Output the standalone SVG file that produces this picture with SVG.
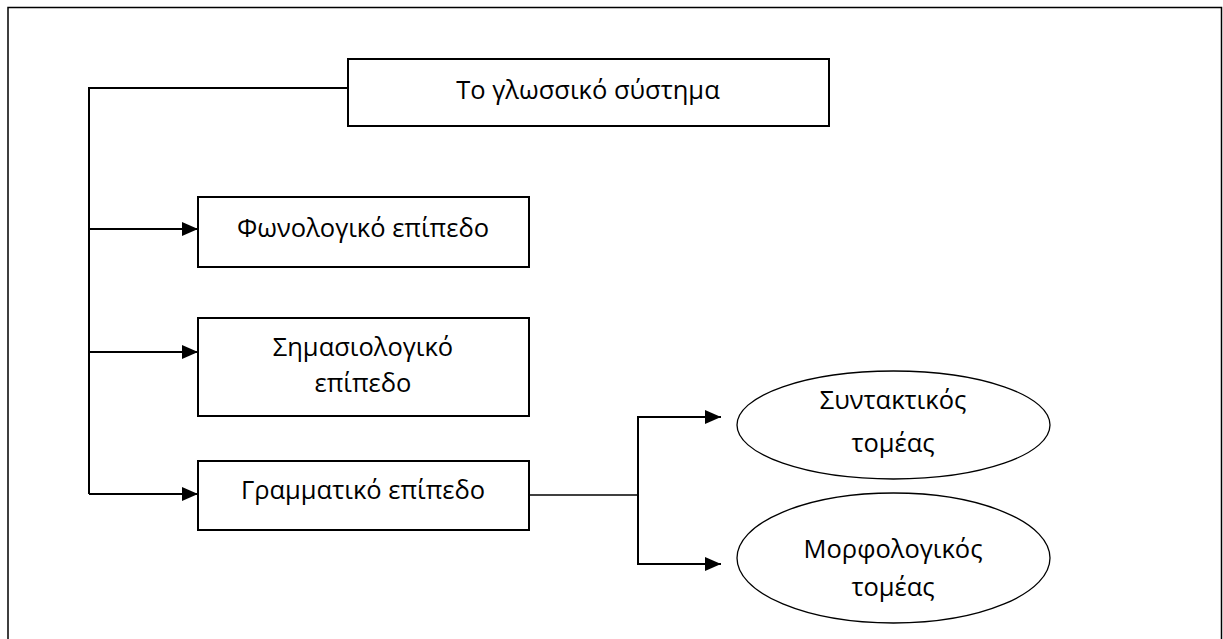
<svg xmlns="http://www.w3.org/2000/svg" width="1223" height="639" viewBox="0 0 1223 639">
<style>
.box{fill:#fff;stroke:#000;stroke-width:2}
.ell{fill:#fff;stroke:#000;stroke-width:1.3}
.ln{fill:none;stroke:#000;stroke-width:2}
text{font-family:"Open Sans","Liberation Sans",sans-serif;font-size:25.5px;fill:#000;text-anchor:middle}
</style>
<defs>
<marker id="arr2" markerWidth="16" markerHeight="14" refX="16" refY="7" orient="auto" markerUnits="userSpaceOnUse" viewBox="0 0 16 14">
<path d="M0,0 L16,7 L0,14 Z" fill="#000"/>
</marker>
</defs>
<rect x="0" y="0" width="1223" height="639" fill="#fff"/>
<path d="M8,646 L8,7.5 L1221.5,7.5 L1221.5,646" fill="none" stroke="#000" stroke-width="1.5"/>
<g id="connectors">
<path class="ln" d="M348,88 L89,88 L89,494"/>
<path class="ln" d="M89,229 L198,229" marker-end="url(#arr2)"/>
<path class="ln" d="M89,352 L198,352" marker-end="url(#arr2)"/>
<path class="ln" d="M89,494 L198,494" marker-end="url(#arr2)"/>
<path class="ln" d="M529,495 L638,495" style="stroke-width:1.3"/>
<path class="ln" d="M721,417 L638,417 L638,564 L721,564"/>
<path class="ln" d="M700,417 L721,417" marker-end="url(#arr2)"/>
<path class="ln" d="M700,564 L721,564" marker-end="url(#arr2)"/>
</g>
<g id="n-system">
<rect class="box" x="348" y="59" width="481" height="67"/>
<text x="588" y="99">Το γλωσσικό σύστημα</text>
</g>
<g id="n-phon">
<rect class="box" x="198" y="197" width="331" height="70"/>
<text x="363" y="237">Φωνολογικό επίπεδο</text>
</g>
<g id="n-sem">
<rect class="box" x="198" y="318" width="331" height="98"/>
<text x="363" y="356">Σημασιολογικό</text>
<text x="363" y="392">επίπεδο</text>
</g>
<g id="n-gram">
<rect class="box" x="198" y="461" width="331" height="69"/>
<text x="363" y="499">Γραμματικό επίπεδο</text>
</g>
<g id="n-synt">
<ellipse class="ell" cx="893.5" cy="425" rx="156.5" ry="54"/>
<text x="893" y="409">Συντακτικός</text>
<text x="893" y="452">τομέας</text>
</g>
<g id="n-morph">
<ellipse class="ell" cx="893.5" cy="558" rx="156.5" ry="65"/>
<text x="893" y="558">Μορφολογικός</text>
<text x="893" y="596">τομέας</text>
</g>
</svg>
